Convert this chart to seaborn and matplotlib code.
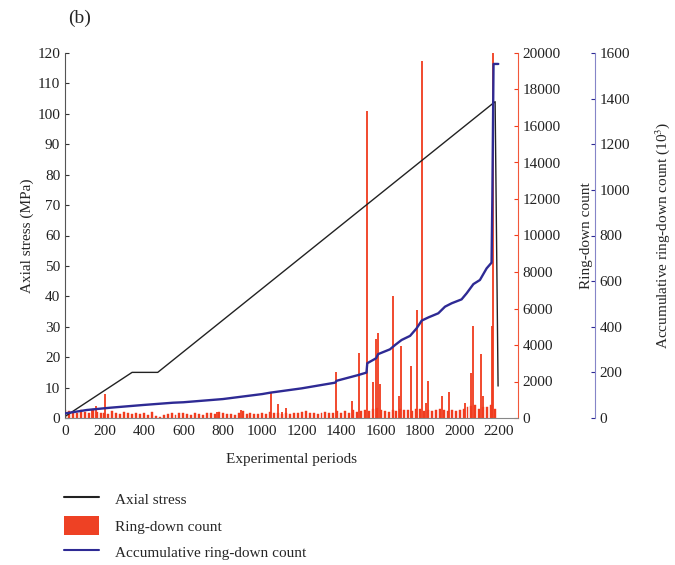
import numpy as np
import seaborn as sns
import matplotlib.pyplot as plt
from matplotlib.patches import Patch
from matplotlib.lines import Line2D

# axial stress (MPa), piecewise linear loading path
stress_period = [0, 340, 470, 2180, 2195]
stress_mpa = [0.5, 15, 15, 104, 10.5]

# background ring-down counts, one value every 20 periods
noise_period = list(range(0, 2200, 20))
noise_count = [
    450, 380, 300, 250, 420, 350, 280, 500, 320, 260,
    300, 240, 380, 280, 220, 350, 260, 200, 300, 240,
    280, 150, 320, 120, 60, 180, 220, 260, 180, 300,
    250, 200, 160, 280, 230, 190, 300, 260, 220, 340,
    260, 200, 240, 180, 300, 380, 220, 260, 200, 240,
    280, 230, 330, 300, 260, 240, 280, 220, 300, 260,
    320, 380, 260, 300, 240, 280, 350, 300, 250, 400,
    300, 360, 280, 420, 330, 380, 450, 400, 500, 560,
    420, 380, 350, 450, 380, 500, 420, 460, 380, 520,
    480, 400, 440, 380, 460, 520, 420, 380, 450, 400,
    420, 500, 600, 650, 700, 520, 580, 620, 700, 500,
]

# distinct ring-down spikes
spike_period = [135, 155, 203, 770, 892, 1042, 1080, 1098, 1120, 1373,
                1455, 1490, 1531, 1559, 1575, 1585, 1597, 1664, 1693, 1705,
                1754, 1786, 1808, 1830, 1842, 1909, 1946, 2027, 2058, 2066,
                2107, 2120, 2164, 2171]
spike_count = [440, 670, 1330, 340, 440, 1440, 760, 340, 540, 2500,
               930, 3550, 16800, 1980, 4310, 4660, 1860, 6680, 1220, 3970,
               2840, 5910, 19550, 810, 2020, 1200, 1420, 800, 2450, 5020,
               3480, 1200, 5020, 21000]

# accumulative ring-down count (10^3)
cum_period = [0, 110, 228, 396, 548, 600, 800, 1000, 1040, 1200,
              1370, 1376, 1485, 1528, 1532, 1577, 1587, 1647, 1673, 1706,
              1749, 1782, 1808, 1842, 1892, 1926, 1960, 2010, 2036, 2070,
              2103, 2137, 2162, 2166, 2172, 2196]
cum_count = [20, 35, 45, 57, 67, 69, 83, 105, 111, 130,
             155, 163, 188, 199, 240, 262, 280, 301, 320, 342,
             360, 393, 427, 441, 459, 488, 503, 520, 547, 587,
             605, 656, 681, 963, 1552, 1552]

RED = "#f03c1e"
BLUE = "#2e2a94"
BLUE_SPINE = "#8585c8"

sns.set_style("white")
plt.rcParams["font.family"] = ["Liberation Serif", "DejaVu Serif"]
plt.rcParams["font.size"] = 11
plt.rcParams["mathtext.fontset"] = "stix"

fig = plt.figure(figsize=(6.75, 5.65), dpi=100)
ax = fig.add_axes([65 / 675, 1 - 418 / 565, 453 / 675, 365 / 565])
ax_r = ax.twinx()
ax_b = ax.twinx()

# ring-down bars sit behind the lines
ax_r.set_zorder(1)
ax.set_zorder(2)
ax_b.set_zorder(3)
ax.patch.set_visible(False)
ax_b.patch.set_visible(False)

ax_r.bar(noise_period, noise_count, width=10, color=RED, edgecolor=RED,
         linewidth=0.3)
ax_r.vlines(spike_period, 0, spike_count, color=RED, linewidth=1.3)

sns.lineplot(x=stress_period, y=stress_mpa, ax=ax, color="#222222",
             linewidth=1.0, estimator=None, sort=False)
sns.lineplot(x=cum_period, y=cum_count, ax=ax_b, color=BLUE,
             linewidth=1.7, estimator=None, sort=False)

ax.set_xlim(0, 2296)
ax.set_xticks(np.arange(0, 2201, 200))
ax.set_ylim(0, 120)
ax.set_yticks(np.arange(0, 121, 10))
ax_r.set_ylim(0, 20000)
ax_r.set_yticks(np.arange(0, 20001, 2000))
ax_b.set_ylim(0, 1600)
ax_b.set_yticks(np.arange(0, 1601, 200))

ax.set_xlabel("Experimental periods", fontsize=11, labelpad=11)
ax.set_ylabel("Axial stress (MPa)", fontsize=11, labelpad=2)
ax_r.set_ylabel("Ring-down count", fontsize=11, labelpad=14)
ax_b.set_ylabel("Accumulative ring-down count (10$^3$)", fontsize=11,
                labelpad=16)

for a in (ax, ax_r, ax_b):
    a.spines["top"].set_visible(False)
    a.tick_params(direction="in", length=3, width=0.8, labelsize=11)

ax.spines["right"].set_visible(False)
ax.spines["left"].set_color("#555555")
ax.spines["bottom"].set_color("#888888")
ax.tick_params(axis="x", colors="#333333", labelcolor="#222222", pad=5)
ax.tick_params(axis="y", colors="#333333", labelcolor="#222222")

for side in ("left", "bottom"):
    ax_r.spines[side].set_visible(False)
    ax_b.spines[side].set_visible(False)
ax_r.spines["right"].set_color("#f2583a")
ax_r.tick_params(axis="y", colors=RED, labelcolor="#222222")

ax_b.spines["right"].set_position(("axes", 1 + 77 / 453))
ax_b.spines["right"].set_color(BLUE_SPINE)
ax_b.tick_params(axis="y", colors=BLUE, labelcolor="#222222")

fig.text(68 / 675, 1 - 18 / 565, "(b)", fontsize=14, va="center", ha="left")

handles = [
    Line2D([], [], color="#222222", linewidth=1.5),
    Patch(facecolor="#ee4124", edgecolor="none"),
    Line2D([], [], color=BLUE, linewidth=1.5),
]
labels = ["Axial stress", "Ring-down count", "Accumulative ring-down count"]
fig.legend(handles, labels, loc="upper left",
           bbox_to_anchor=(58 / 675, 1 - 484 / 565), frameon=False,
           fontsize=11, handlelength=2.3, handleheight=1.5,
           handletextpad=1.0, labelspacing=0.5, borderaxespad=0)

fig.savefig("out.png", dpi=100)
plt.close(fig)
